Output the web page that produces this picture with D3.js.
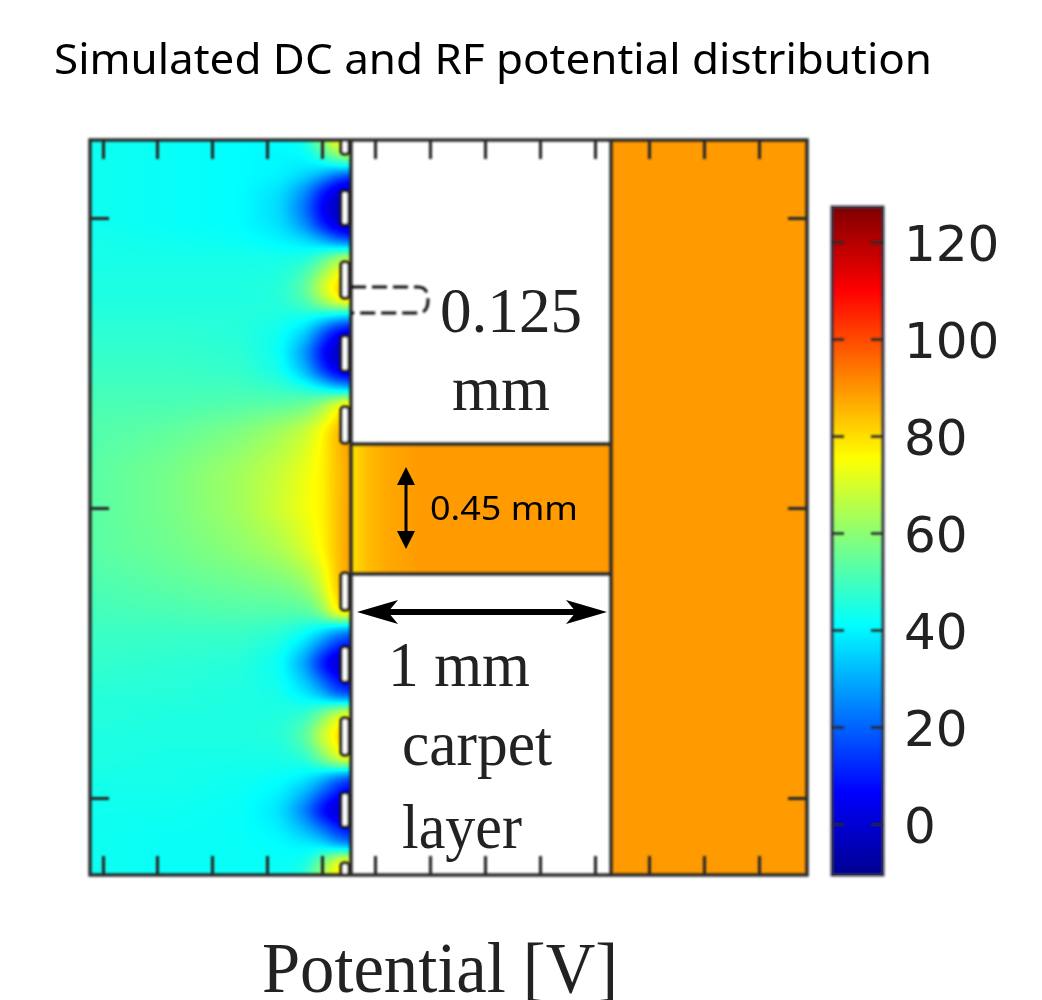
<!DOCTYPE html>
<html><head><meta charset="utf-8">
<script src="https://cdn.jsdelivr.net/npm/d3@7/dist/d3.min.js"></script>
<style>
html,body{margin:0;padding:0;background:#fff;overflow:hidden}
#wrap{position:relative;width:1042px;height:1000px}
canvas,svg{position:absolute;left:0;top:0}
</style></head><body><div id="wrap"></div>
<script>
const titleText = "Simulated DC and RF potential distribution";
const axisLabel = "Potential [V]";
const barTicks = [0,20,40,60,80,100,120];
const barDomain = [-10.5,127];
const jetStops = ["#00008f","#0000ff","#00ffff","#ffff00","#ff0000","#800000"];
const jetOffsets = [0,0.125,0.375,0.625,0.875,1];
const electrodes = [[136,154],[191,225],[262,298],[336,371],[407,443],[573,610],[647,682],[718,755],[793,827],[863,880]];
const xTicks = [103,157,212,267,322,375,430,485,540,595,649,704,759];
const yTicks = [218,508,798];
const bulkPotential = 89;
// potential: field columns (px) and rows (px)
const fieldX = [90,170,240,280,305,322,335,350];
const fieldY = [140,160,175,190,207,225,240,257,285,300,315,330,352,372,387,403,430,470,510,550,590,613,630,662,695,712,735,760,777,810,843,860,875];
const fieldV = [
[43,42,41,41,43,62,76,82],[43,42,41,40,40,44,52,58],[43,42,41,40,36,30,20,14],[43,42,41,37,26,10,1,-4],
[43,42,41,36,21,4,-3,-8],[43,42,41,37,26,10,1,-4],[44,43,42,40,37,31,22,16],[44,44,44,44,45,52,62,70],
[45,45,45,46,54,70,80,90],[45,45,45,46,52,64,76,84],[46,46,46,45,44,42,38,35],[47,47,46,43,36,20,8,2],
[48,48,47,42,26,6,-3,-8],[49,49,48,44,32,15,4,-2],[50,50,50,48,45,40,33,28],[51,51,52,53,55,61,72,82],
[52,54,58,63,68,76,84,90],[53,57,63,68,73,77,83,88],[53,57,63,69,74,77,83,89],[53,56,60,64,70,76,83,89],
[51,53,55,56,59,68,82,90],[50,51,52,52,52,58,76,82],[49,49,49,47,43,37,28,22],[48,47,46,42,27,7,-3,-8],
[46,46,45,44,39,32,20,15],[46,45,45,45,47,56,68,76],[45,45,45,46,54,70,80,90],[45,44,44,44,46,56,68,76],
[44,44,43,42,39,32,22,14],[43,43,42,37,22,5,-3,-8],[43,42,42,41,39,36,26,20],[43,42,42,42,43,56,72,80],
[43,42,42,42,46,64,78,84]];
const slotX = [351,365,385,420,611];
const slotV = [79,84,87,89,89];

const W=1042,H=1000;
const wrap=d3.select("#wrap");
const jet=d3.scaleLinear().domain(jetOffsets.map(o=>barDomain[0]+o*(barDomain[1]-barDomain[0]))).range(jetStops).clamp(true);
const fx=d3.scaleLinear().domain(fieldX).range(d3.range(fieldX.length)).clamp(true);
const fy=d3.scaleLinear().domain(fieldY).range(d3.range(fieldY.length)).clamp(true);
const sx=d3.scaleLinear().domain(slotX).range(slotV).clamp(true);
function sample(x,y){
  const i=fx(x),j=fy(y);
  const i0=Math.min(Math.floor(i),fieldX.length-2),j0=Math.min(Math.floor(j),fieldY.length-2);
  const a=i-i0,b=j-j0;
  const top=d3.interpolateNumber(fieldV[j0][i0],fieldV[j0][i0+1])(a);
  const bot=d3.interpolateNumber(fieldV[j0+1][i0],fieldV[j0+1][i0+1])(a);
  return d3.interpolateNumber(top,bot)(b);
}
function paintValues(x0,y0,x1,y1,fn,r){
  const w=x1-x0,h=y1-y0,data=new Float64Array(w*h);
  for(let y=0;y<h;y++)for(let x=0;x<w;x++)data[y*w+x]=fn(x+x0,y+y0);
  if(r)d3.blur2({data,width:w,height:h},r);
  const c=wrap.append("canvas").attr("width",w).attr("height",h).style("left",x0+"px").style("top",y0+"px");
  const g=c.node().getContext("2d");
  for(let y=0;y<h;y++)for(let x=0;x<w;x++){g.fillStyle=jet(data[y*w+x]);g.fillRect(x,y,1,1);}
}
paintValues(90,140,351,875,sample,5);
paintValues(351,444,611,574,(x,y)=>sx(x),3);
paintValues(832,207,883,875,(x,y)=>barDomain[0]+(875-y)/668*(barDomain[1]-barDomain[0]),0);

const svg=wrap.append("svg").attr("width",W).attr("height",H);
const defs=svg.append("defs");
defs.append("filter").attr("id","soft").append("feGaussianBlur").attr("stdDeviation",0.8);
defs.append("filter").attr("id","softText").append("feGaussianBlur").attr("stdDeviation",0.6);

svg.append("text").attr("x",54).attr("y",74).attr("font-family","'Noto Sans', sans-serif").attr("font-size",41).attr("fill","#000")
  .attr("textLength",878).attr("lengthAdjust","spacingAndGlyphs").text(titleText);

svg.append("rect").attr("x",611).attr("y",140).attr("width",196).attr("height",735).attr("fill",jet(bulkPotential));

const frame=svg.append("g").attr("filter","url(#soft)");
const lineCol="#2b2b2b";
const xScale=d3.scaleLinear().domain([90,807]).range([90,807]);
const yScale=d3.scaleLinear().domain([140,875]).range([140,875]);
function ax(gen,tx,ty){
  const g=frame.append("g").attr("transform",`translate(${tx},${ty})`).call(gen);
  g.select(".domain").remove();
  g.selectAll("line").attr("stroke",lineCol).attr("stroke-width",3.2);
  g.selectAll("text").remove();
}
ax(d3.axisBottom(xScale).tickValues(xTicks).tickSize(19).tickFormat(""),0,140);
ax(d3.axisTop(xScale).tickValues(xTicks).tickSize(19).tickFormat(""),0,875);
ax(d3.axisRight(yScale).tickValues(yTicks).tickSize(19).tickFormat(""),90,0);
ax(d3.axisLeft(yScale).tickValues(yTicks).tickSize(19).tickFormat(""),807,0);
const clip=defs.append("clipPath").attr("id","panel");
clip.append("rect").attr("x",90).attr("y",139).attr("width",261).attr("height",737);
frame.append("g").attr("clip-path","url(#panel)").selectAll("rect").data(electrodes).join("rect")
  .attr("x",341).attr("y",d=>d[0]).attr("width",8).attr("height",d=>d[1]-d[0]).attr("rx",3)
  .attr("fill","#fff").attr("stroke","#1c1c1c").attr("stroke-width",3.2);
frame.append("rect").attr("x",90).attr("y",140).attr("width",717).attr("height",735).attr("fill","none").attr("stroke",lineCol).attr("stroke-width",3.4);
[[351,140,351,875],[611,140,611,875],[351,444,611,444],[351,574,611,574]].forEach(d=>
  frame.append("line").attr("x1",d[0]).attr("y1",d[1]).attr("x2",d[2]).attr("y2",d[3]).attr("stroke",lineCol).attr("stroke-width",3.4));
frame.append("path").attr("d","M351,287H418Q428,287 428,300Q428,313 418,313H351")
  .attr("fill","none").attr("stroke","#111").attr("stroke-width",3).attr("stroke-dasharray","15 6");

const vScale=d3.scaleLinear().domain([0,120]).range([824,242]);
const bf=svg.append("g").attr("filter","url(#soft)");
bf.append("rect").attr("x",832).attr("y",207).attr("width",51).attr("height",668).attr("fill","none").attr("stroke","#3a3a4a").attr("stroke-width",3);
function ax2(gen,tx){
  const g=bf.append("g").attr("transform",`translate(${tx},0)`).call(gen);
  g.select(".domain").remove();
  g.selectAll("line").attr("stroke","#2b2b2b").attr("stroke-width",2.6);
  g.selectAll("text").remove();
}
ax2(d3.axisRight(vScale).tickValues(barTicks).tickSize(12),832);
ax2(d3.axisLeft(vScale).tickValues(barTicks).tickSize(12),883);

const labs=svg.append("g").attr("filter","url(#softText)");
labs.selectAll("text.v").data(barTicks).join("text").attr("class","v")
  .attr("x",904).attr("y",d=>vScale(d)+19).attr("font-family","'DejaVu Sans'").attr("font-size",50).attr("fill","#222").text(d=>d);

const notes=[["0.125",440,332,142],["mm",452,410,98],["1 mm",388,686,142],["carpet",402,765,150],["layer",402,848,120]];
labs.selectAll("text.n").data(notes).join("text").attr("class","n")
  .attr("x",d=>d[1]).attr("y",d=>d[2]).attr("font-size",64).attr("textLength",d=>d[3]).attr("lengthAdjust","spacingAndGlyphs")
  .attr("font-family","'Liberation Serif'").attr("fill","#222").text(d=>d[0]);
labs.append("text").attr("x",262).attr("y",992).attr("font-family","'Liberation Serif'").attr("font-size",71).attr("fill","#222")
  .attr("textLength",356).attr("lengthAdjust","spacingAndGlyphs").text(axisLabel);

svg.append("text").attr("x",430).attr("y",520).attr("font-family","'Noto Sans'").attr("font-size",32).attr("fill","#000")
  .attr("textLength",148).attr("lengthAdjust","spacingAndGlyphs").text("0.45 mm");

const arr=svg.append("g");
arr.append("path").attr("d","M406,478V538").attr("stroke","#000").attr("stroke-width",3).attr("fill","none");
arr.append("path").attr("d","M406,467L397,485H415Z M406,549L397,531H415Z").attr("fill","#000");
arr.append("path").attr("d","M380,612H584").attr("stroke","#000").attr("stroke-width",6);
arr.append("path").attr("d","M357,612L398,600L388,612L398,624Z M607,612L566,600L576,612L566,624Z").attr("fill","#000");
</script></body></html>
